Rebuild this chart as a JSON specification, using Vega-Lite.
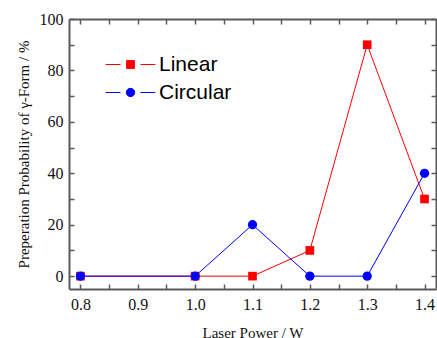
{
  "$schema": "https://vega.github.io/schema/vega-lite/v6.json",
  "width": 367,
  "height": 270,
  "autosize": "none",
  "padding": {"left": 69, "top": 19, "right": 1, "bottom": 49},
  "background": "white",
  "config": {
    "view": {"stroke": null},
    "axis": {
      "labelFont": "Liberation Serif",
      "labelFontSize": 16,
      "labelColor": "#111",
      "titleFont": "Liberation Serif",
      "titleFontSize": 15,
      "titleFontWeight": "normal",
      "titleColor": "#111",
      "domainColor": "#5a5a5a",
      "domainWidth": 2,
      "tickColor": "#5a5a5a",
      "tickWidth": 1.5,
      "grid": false,
      "labelOverlap": false,
      "labelFlush": false
    },
    "legend": {
      "orient": "none",
      "legendX": 51,
      "legendY": 35,
      "padding": 0,
      "symbolSize": 76,
      "labelOffset": 18,
      "rowPadding": 6,
      "labelFont": "Liberation Sans",
      "labelFontSize": 21,
      "labelColor": "#000"
    }
  },
  "data": {
    "values": [
      {"series": "Linear", "power": 0.8, "prob": 0},
      {"series": "Linear", "power": 1.0, "prob": 0},
      {"series": "Linear", "power": 1.1, "prob": 0},
      {"series": "Linear", "power": 1.2, "prob": 10},
      {"series": "Linear", "power": 1.3, "prob": 90},
      {"series": "Linear", "power": 1.4, "prob": 30},
      {"series": "Circular", "power": 0.8, "prob": 0},
      {"series": "Circular", "power": 1.0, "prob": 0},
      {"series": "Circular", "power": 1.1, "prob": 20},
      {"series": "Circular", "power": 1.2, "prob": 0},
      {"series": "Circular", "power": 1.3, "prob": 0},
      {"series": "Circular", "power": 1.4, "prob": 40}
    ]
  },
  "layer": [
    {
      "mark": {"type": "line", "strokeWidth": 1},
      "encoding": {
        "x": {
          "field": "power", "type": "quantitative",
          "scale": {"domain": [0.78, 1.42], "nice": false, "zero": false},
          "axis": {
            "orient": "bottom",
            "values": [0.8, 0.85, 0.9, 0.95, 1.0, 1.05, 1.1, 1.15, 1.2, 1.25, 1.3, 1.35, 1.4],
            "format": ".1f",
            "labelExpr": "round(datum.value*100) % 10 === 0 ? datum.label : ''",
            "tickSize": -5,
            "labelPadding": 12,
            "title": "Laser Power / W",
            "titlePadding": 13,
            "encode": {"ticks": {"y2": {"condition": {"test": "round(datum.value*100) % 10 === 0", "value": -5}, "value": -3}}}
          }
        },
        "y": {
          "field": "prob", "type": "quantitative",
          "scale": {"domain": [-5, 100], "nice": false},
          "axis": {
            "orient": "left",
            "values": [0, 10, 20, 30, 40, 50, 60, 70, 80, 90, 100],
            "labelExpr": "datum.value % 20 === 0 ? datum.label : ''",
            "tickSize": -5,
            "labelPadding": 11,
            "title": "Preperation Probability of γ-Form / %",
            "titlePadding": 8,
            "encode": {"ticks": {"x2": {"condition": {"test": "datum.value % 20 === 0", "value": 5}, "value": 3}}}
          }
        },
        "stroke": {
          "field": "series", "type": "nominal",
          "scale": {"domain": ["Circular", "Linear"], "range": ["#0000ff", "#ff0000"]},
          "legend": null
        }
      }
    },
    {
      "transform": [{"filter": "datum.series === 'Linear'"}],
      "mark": {"type": "point", "filled": true, "opacity": 1, "shape": "square", "size": 75},
      "encoding": {
        "x": {
          "field": "power", "type": "quantitative",
          "axis": {
            "orient": "top",
            "values": [0.8, 0.85, 0.9, 0.95, 1.0, 1.05, 1.1, 1.15, 1.2, 1.25, 1.3, 1.35, 1.4],
            "labels": false,
            "tickSize": -5,
            "title": null,
            "encode": {"ticks": {"y2": {"condition": {"test": "round(datum.value*100) % 10 === 0", "value": 5}, "value": 3}}}
          }
        },
        "y": {
          "field": "prob", "type": "quantitative",
          "axis": {
            "orient": "right",
            "values": [0, 10, 20, 30, 40, 50, 60, 70, 80, 90, 100],
            "labels": false,
            "tickSize": -5,
            "title": null,
            "encode": {"ticks": {"x2": {"condition": {"test": "datum.value % 20 === 0", "value": -5}, "value": -3}}}
          }
        },
        "color": {
          "field": "series", "type": "nominal",
          "scale": {"domain": ["Linear", "Circular"], "range": ["#ff0000", "#0000ff"]},
          "legend": {
            "title": null,
            "symbolType": {"expr": "datum.value === 'Linear' ? 'M-5.7,0H-2.3M2.3,0H5.7M-0.9,-0.9H0.9V0.9H-0.9Z' : 'M-5.7,0H-2.3M2.3,0H5.7M-0.95,0A0.95,0.95 0 1 0 0.95,0A0.95,0.95 0 1 0 -0.95,0Z'"},
            "symbolStrokeColor": {"expr": "datum.value === 'Linear' ? '#ff0000' : '#0000ff'"},
            "symbolStrokeWidth": 1
          }
        }
      }
    },
    {
      "transform": [{"filter": "datum.series === 'Circular'"}],
      "mark": {"type": "point", "filled": true, "opacity": 1, "shape": "circle", "size": 86},
      "encoding": {
        "x": {"field": "power", "type": "quantitative", "axis": null},
        "y": {"field": "prob", "type": "quantitative", "axis": null},
        "color": {
          "field": "series", "type": "nominal",
          "scale": {"domain": ["Linear", "Circular"], "range": ["#ff0000", "#0000ff"]},
          "legend": {
            "title": null,
            "symbolType": {"expr": "datum.value === 'Linear' ? 'M-5.7,0H-2.3M2.3,0H5.7M-0.9,-0.9H0.9V0.9H-0.9Z' : 'M-5.7,0H-2.3M2.3,0H5.7M-0.95,0A0.95,0.95 0 1 0 0.95,0A0.95,0.95 0 1 0 -0.95,0Z'"},
            "symbolStrokeColor": {"expr": "datum.value === 'Linear' ? '#ff0000' : '#0000ff'"},
            "symbolStrokeWidth": 1
          }
        }
      }
    }
  ],
  "resolve": {"axis": {"x": "independent", "y": "independent"}}
}
